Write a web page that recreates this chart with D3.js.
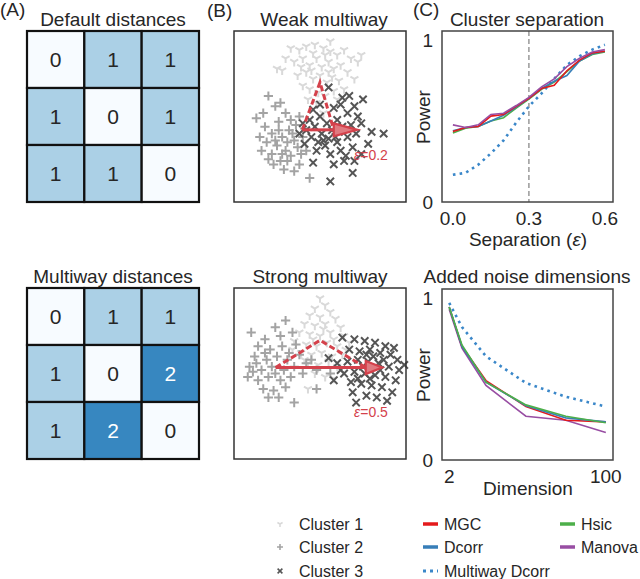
<!DOCTYPE html>
<html>
<head>
<meta charset="utf-8">
<script src="https://cdn.jsdelivr.net/npm/d3@7"></script>
<style>
  body { margin: 0; background: #fff; }
  text { font-family: "Liberation Sans", Arial, sans-serif; fill: #262626; }
</style>
</head>
<body>
<svg id="fig" width="640" height="579"></svg>
<script>
// ---- data ----
const defaultDist = [[0,1,1],[1,0,1],[1,1,0]];
const multiwayDist = [[0,1,1],[1,0,2],[1,2,0]];

// scatter clusters, box coordinates 0..100 (y up)
const weakC1 = [[33,90],[38,89],[42,91],[47,92],[52,90],[56,88],[60,86],[64,89],[68,84],[72,82],[28,77],[35,82],[40,84],[44,80],[48,84],[51,79],[55,82],[58,78],[62,80],[66,76],[37,74],[42,76],[46,72],[50,74],[54,70],[57,73],[61,71],[44,66],[49,64],[53,62],[58,65],[40,68],[46,87],[53,86],[39,79],[45,77],[55,76],[48,58],[60,60],[64,66],[52,52],[43,60],[70,72],[30,84],[56,94],[25,78],[74,86]];
const weakC2 = [[20,62],[13,49],[24,56],[18,44],[22,40],[26,47],[30,52],[28,38],[32,42],[35,36],[25,33],[30,30],[22,28],[27,24],[33,27],[37,32],[40,38],[36,45],[31,35],[34,40],[19,35],[16,30],[23,22],[29,19],[38,22],[42,30],[44,14],[26,42],[33,48],[38,50],[15,38],[20,25],[35,18],[41,43],[28,28],[24,36],[31,24],[39,28],[27,58],[17,52]];
const weakC3 = [[55,67],[63,61],[75,60],[70,56],[58,55],[50,57],[66,52],[72,50],[60,48],[54,46],[47,44],[42,42],[38,40],[45,38],[51,40],[57,42],[63,44],[68,45],[74,46],[80,41],[87,40],[66,38],[60,35],[53,33],[48,30],[56,28],[62,30],[69,32],[74,28],[64,24],[58,22],[69,17],[56,12],[46,23],[41,34],[78,34],[71,40],[50,50],[59,38],[65,27],[52,36],[44,48],[62,57],[67,62],[46,54],[55,37],[61,41],[49,35],[70,24],[40,46]];
const strongC1 = [[50,94],[53,90],[47,88],[56,86],[44,84],[50,83],[59,82],[41,79],[47,78],[53,79],[62,77],[38,74],[44,73],[50,72],[56,74],[64,72],[35,69],[42,67],[48,66],[54,68],[60,66],[67,68],[39,62],[45,61],[51,62],[57,60],[63,61],[43,56],[49,55],[55,57],[60,54],[47,50],[53,48],[58,47],[34,64],[46,70],[52,76],[58,70],[65,64],[41,58],[43,41]];
const strongC2 = [[30,81],[10,74],[24,77],[18,70],[27,72],[34,74],[14,66],[21,64],[28,66],[36,67],[12,60],[19,58],[25,60],[31,58],[38,61],[9,54],[16,52],[22,54],[29,52],[35,54],[42,56],[8,48],[14,46],[20,48],[27,46],[33,48],[40,50],[48,52],[56,50],[17,41],[23,40],[30,42],[48,41],[26,36],[35,33],[20,36],[45,58],[13,56],[32,62],[24,50],[11,51],[18,62]];
const strongC3 = [[63,71],[70,70],[76,69],[82,68],[88,66],[55,59],[67,64],[73,63],[79,64],[85,62],[91,61],[95,58],[60,56],[66,57],[72,58],[78,57],[84,56],[90,54],[96,52],[64,50],[70,51],[76,50],[82,49],[88,48],[94,46],[58,46],[68,45],[74,44],[80,43],[86,42],[92,39],[71,33],[77,37],[83,36],[89,34],[62,52],[75,54],[81,60],[87,58],[79,47],[69,39],[93,65],[99,55],[85,52],[77,61],[72,47]];
// triangle: cluster 2 centre, apex (cluster 1), cluster 3 centre, arrow tip
const weakTri = [[39.7,42.2],[50,70],[58,42.2],[71.7,42.2]];
const strongTri = [[24.2,53.5],[50,69.4],[76.6,53.5],[86.2,53.5]];

// power curves
const sepX = [0,0.05,0.1,0.15,0.2,0.25,0.3,0.35,0.4,0.45,0.5,0.55,0.6];
const sepMGC    = [0.435,0.46,0.466,0.53,0.54,0.59,0.64,0.70,0.72,0.81,0.875,0.92,0.93];
const sepDcorr  = [0.44,0.46,0.466,0.50,0.535,0.585,0.64,0.70,0.745,0.78,0.87,0.915,0.93];
const sepHsic   = [0.425,0.455,0.466,0.50,0.52,0.58,0.635,0.695,0.74,0.805,0.87,0.91,0.925];
const sepManova = [0.476,0.46,0.476,0.54,0.548,0.595,0.645,0.71,0.76,0.835,0.887,0.925,0.94];
const sepMulti  = [0.168,0.18,0.23,0.30,0.38,0.49,0.59,0.67,0.76,0.845,0.90,0.94,0.97];

const dimX = [2,10,25,50,75,100];
const dimMGC    = [0.944,0.70,0.49,0.33,0.245,0.235];
const dimDcorr  = [0.944,0.70,0.48,0.335,0.26,0.235];
const dimHsic   = [0.944,0.71,0.48,0.34,0.27,0.23];
const dimManova = [0.93,0.69,0.46,0.27,0.245,0.17];
const dimMulti  = [0.97,0.82,0.64,0.475,0.39,0.33];

const methods = ["MGC","Dcorr","Hsic","Manova","Multiway Dcorr"];
const methodColors = {"MGC":"#e41a1c","Dcorr":"#377eb8","Hsic":"#4daf4a","Manova":"#984ea3","Multiway Dcorr":"#3a87c9"};
const clusterNames = ["Cluster 1","Cluster 2","Cluster 3"];
const clusterColors = ["#d9d9d9","#a3a3a3","#555555"];
const red = "#d4414b";

const svg = d3.select("#fig");

function label(x, y, txt, opts = {}) {
    return svg.append("text").attr("x", x).attr("y", y)
        .attr("font-size", opts.size || 19)
        .attr("text-anchor", opts.anchor || "middle")
        .text(txt);
}

// ---- (A) matrices ----
const cellColor = d3.scaleOrdinal([0,1,2], ["#f7fbff","#abd0e6","#3787c0"]);

function matrix(values, top) {
    let x = d3.scaleBand().domain(d3.range(3)).range([27, 199]);
    let y = d3.scaleBand().domain(d3.range(3)).range([top, top + 171]);
    let cells = values.flatMap((row, i) => row.map((v, j) => ({i, j, v})));
    let g = svg.append("g");
    g.selectAll("rect").data(cells).join("rect")
        .attr("x", d => x(d.j)).attr("y", d => y(d.i))
        .attr("width", x.bandwidth()).attr("height", y.bandwidth())
        .attr("fill", d => cellColor(d.v))
        .attr("stroke", "#111").attr("stroke-width", 2.2);
    g.selectAll("text").data(cells).join("text")
        .attr("x", d => x(d.j) + x.bandwidth() / 2)
        .attr("y", d => y(d.i) + y.bandwidth() / 2)
        .attr("dy", "0.36em")
        .attr("text-anchor", "middle").attr("font-size", 21)
        .style("fill", d => d.v === 2 ? "#fff" : "#262626")
        .text(d => d.v);
}

label(0, 16, "(A)", {anchor: "start"});
label(113, 26, "Default distances");
matrix(defaultDist, 31);
label(113, 283, "Multiway distances");
matrix(multiwayDist, 288);

// ---- (B) scatter ----
const r = 4.6;
const markers = [
    `M0,0L0,${r}M0,0L${-r*0.87},${-r*0.5}M0,0L${r*0.87},${-r*0.5}`,
    `M${-r},0L${r},0M0,${-r}L0,${r}`,
    `M${-r*0.8},${-r*0.8}L${r*0.8},${r*0.8}M${-r*0.8},${r*0.8}L${r*0.8},${-r*0.8}`
];

function scatter(clusters, tri, top, eps) {
    let x = d3.scaleLinear().domain([0, 100]).range([234, 406]);
    let y = d3.scaleLinear().domain([0, 100]).range([top + 171, top]);
    let g = svg.append("g");
    clusters.forEach((pts, k) => {
        g.selectAll(".c" + k).data(pts).join("path")
            .attr("class", "c" + k)
            .attr("transform", d => `translate(${x(d[0])},${y(d[1])})`)
            .attr("d", markers[k])
            .attr("stroke", clusterColors[k]).attr("stroke-width", 2)
            .attr("fill", "none");
    });
    let [c2, apex, c3, tip] = tri;
    g.append("path")
        .attr("d", d3.line()([[x(c2[0]), y(c2[1])], [x(apex[0]), y(apex[1])], [x(c3[0]), y(c3[1])]]))
        .attr("fill", "none").attr("stroke", red).attr("stroke-width", 3)
        .attr("stroke-dasharray", "6,3");
    g.append("line")
        .attr("x1", x(c2[0])).attr("y1", y(c2[1]))
        .attr("x2", x(c3[0])).attr("y2", y(c3[1]))
        .attr("stroke", red).attr("stroke-width", 3);
    let tx = x(tip[0]), ty = y(tip[1]), bx = x(c3[0]);
    g.append("path")
        .attr("d", `M${bx},${ty - 6.5}L${tx},${ty}L${bx},${ty + 6.5}Z`)
        .attr("fill", "#e07a80").attr("stroke", red).attr("stroke-width", 2.2)
        .attr("stroke-linejoin", "miter");
    g.append("text").attr("x", 371).attr("y", top + 129)
        .attr("text-anchor", "middle").attr("font-size", 14)
        .style("fill", red)
        .html(`<tspan font-style="italic">ε</tspan>=${eps}`);
    g.append("rect").attr("x", 234).attr("y", top)
        .attr("width", 172).attr("height", 171)
        .attr("fill", "none").attr("stroke", "#333").attr("stroke-width", 1.5);
}

label(207, 17, "(B)", {anchor: "start"});
label(324, 26, "Weak multiway");
scatter([weakC1, weakC2, weakC3], weakTri, 31, "0.2");
label(320, 283, "Strong multiway");
scatter([strongC1, strongC2, strongC3], strongTri, 288, "0.5");

// ---- (C) power curves ----
function powerPlot(xs, series, xDomain, top, xTicks, xFmt, xLabel, xLabelY, vline) {
    let x = d3.scaleLinear().domain(xDomain).range([442, 613]);
    let y = d3.scaleLinear().domain([0, 1.055]).range([top + 171, top]);
    let g = svg.append("g");
    if (vline !== undefined) {
        g.append("line").attr("x1", x(vline)).attr("x2", x(vline))
            .attr("y1", top).attr("y2", top + 171)
            .attr("stroke", "#999").attr("stroke-width", 1.5)
            .attr("stroke-dasharray", "5,3");
    }
    let line = d3.line().x((d, i) => x(xs[i])).y(d => y(d));
    series.forEach(s => {
        let p = g.append("path").attr("d", line(s.values))
            .attr("fill", "none").attr("stroke", methodColors[s.name]);
        if (s.name === "Multiway Dcorr") {
            p.attr("stroke-width", 2.6).attr("stroke-dasharray", "2.6,4.2");
        } else {
            p.attr("stroke-width", 1.6);
        }
    });
    g.append("rect").attr("x", 442).attr("y", top).attr("width", 171).attr("height", 171)
        .attr("fill", "none").attr("stroke", "#444").attr("stroke-width", 1.5);
    [0, 1].forEach(v => {
        g.append("text").attr("x", 433).attr("y", y(v)).attr("dy", "0.36em")
            .attr("text-anchor", "end").attr("font-size", 19).text(v);
    });
    xTicks.forEach(v => {
        g.append("text").attr("x", x(v)).attr("y", top + 194)
            .attr("text-anchor", "middle").attr("font-size", 19).text(xFmt(v));
    });
    g.append("text").attr("transform", `translate(430,${top + 86}) rotate(-90)`)
        .attr("text-anchor", "middle").attr("font-size", 19).text("Power");
    g.append("text").attr("x", 528).attr("y", xLabelY)
        .attr("text-anchor", "middle").attr("font-size", 19).html(xLabel);
}

label(413, 16, "(C)", {anchor: "start"});
label(527, 26, "Cluster separation");
powerPlot(sepX, [
    {name: "Multiway Dcorr", values: sepMulti},
    {name: "Hsic", values: sepHsic},
    {name: "Dcorr", values: sepDcorr},
    {name: "MGC", values: sepMGC},
    {name: "Manova", values: sepManova}
], [-0.043, 0.632], 31, [0, 0.3, 0.6], d3.format(".1f"),
   'Separation (<tspan font-style="italic">ε</tspan>)', 246, 0.3);

label(527, 283, "Added noise dimensions");
powerPlot(dimX, [
    {name: "Multiway Dcorr", values: dimMulti},
    {name: "Manova", values: dimManova},
    {name: "MGC", values: dimMGC},
    {name: "Dcorr", values: dimDcorr},
    {name: "Hsic", values: dimHsic}
], [-2.5, 104.5], 289, [2, 100], d3.format("d"), "Dimension", 495);

// ---- legend ----
const rowY = [524, 547, 571];
const lg = svg.append("g");
clusterNames.forEach((name, k) => {
    lg.append("path").attr("transform", `translate(280,${rowY[k]}) scale(0.65)`)
        .attr("d", markers[k]).attr("stroke", clusterColors[k])
        .attr("stroke-width", 2.4).attr("fill", "none");
    lg.append("text").attr("x", 299).attr("y", rowY[k]).attr("dy", "0.36em")
        .attr("font-size", 16).text(name);
});
const legendPos = {"MGC":[423,0],"Dcorr":[423,1],"Multiway Dcorr":[423,2],"Hsic":[560,0],"Manova":[560,1]};
methods.forEach(m => {
    let [lx, row] = legendPos[m];
    let ln = lg.append("line").attr("x1", lx).attr("x2", lx + 15)
        .attr("y1", rowY[row]).attr("y2", rowY[row])
        .attr("stroke", methodColors[m]).attr("stroke-width", 3.5);
    if (m === "Multiway Dcorr") ln.attr("stroke-dasharray", "3,4").attr("stroke-width", 3);
    lg.append("text").attr("x", lx + 21).attr("y", rowY[row]).attr("dy", "0.36em")
        .attr("font-size", 16).text(m);
});
</script>
</body>
</html>
